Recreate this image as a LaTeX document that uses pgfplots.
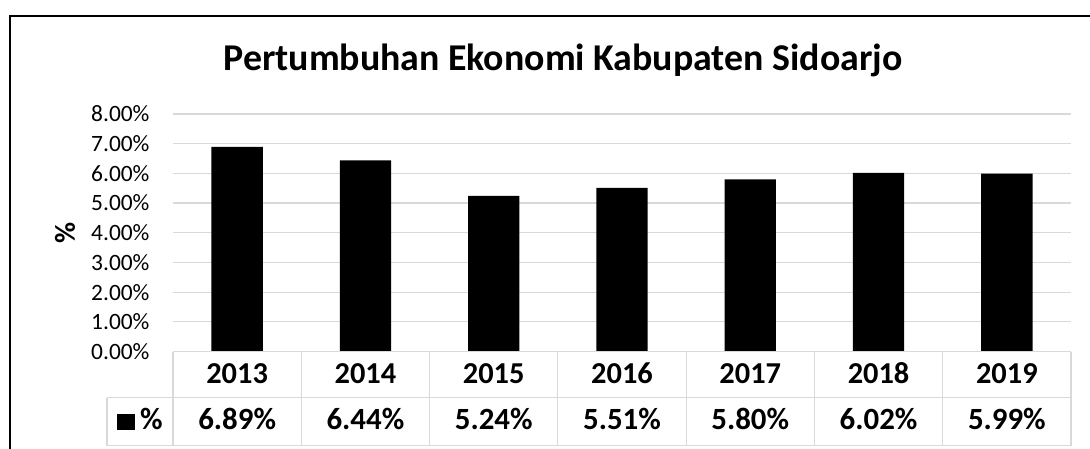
\documentclass[border=0pt]{standalone}
\usepackage{pgfplots}
\pgfplotsset{compat=1.18}
\usepackage{fontspec}
\setmainfont{Carlito}
\definecolor{gridgray}{HTML}{D9D9D9}
\begin{document}
\begin{tikzpicture}
\begin{axis}[
  at={(0,0)}, anchor=south west,
  scale only axis,
  width=898bp, height=237.6bp,
  xmin=-0.5, xmax=6.5, ymin=0, ymax=8,
  ytick={0,1,...,8},
  xtick=\empty,
  ymajorgrids,
  grid style={gridgray, line width=1.2bp},
  axis line style={draw=none},
  major tick length=0pt,
  /pgf/number format/assume math mode=true,
  yticklabel={\pgfmathprintnumber[fixed,fixed zerofill,precision=2]{\tick}\%},
  yticklabel style={font=\fontsize{23.5}{26}\selectfont, anchor=east, xshift=-20bp},
  clip=false,
]
\addplot[ybar, bar width=0.4, fill=black, draw=none] coordinates {
  (0,6.89) (1,6.44) (2,5.24) (3,5.51) (4,5.80) (5,6.02) (6,5.99)
};
\end{axis}
% data table
\begin{scope}[shift={(current axis.south west)}, x=1bp, y=1bp]
  \def\cw{128.286}
  \draw[gridgray, line width=1.2bp] (0,0) -- (898,0);
  \draw[gridgray, line width=1.2bp] (0,-46.1) -- (898,-46.1);
  \draw[gridgray, line width=1.2bp] (-66,-46.1) -- (0,-46.1);
  \draw[gridgray, line width=1.2bp] (-66,-94.1) -- (898,-94.1);
  \draw[gridgray, line width=1.2bp] (-66,-46.1) -- (-66,-94.1);
  \foreach \k in {0,...,7} {
    \draw[gridgray, line width=1.2bp] ({\k*\cw},0) -- ({\k*\cw},-94.1);
  }
  \foreach \yr/\v [count=\i from 0] in {2013/6.89\%,2014/6.44\%,2015/5.24\%,2016/5.51\%,2017/5.80\%,2018/6.02\%,2019/5.99\%} {
    \node[anchor=base, inner sep=0pt, font=\fontsize{30.5}{34}\selectfont\bfseries] at ({(\i+0.5)*\cw},-31.7) {\yr};
    \node[anchor=base, inner sep=0pt, font=\fontsize{31}{34}\selectfont\bfseries] at ({(\i+0.5)*\cw},-78.4) {\v};
  }
  % legend key
  \fill[black] (-56,-62.4) rectangle (-38,-78.4);
  \node[anchor=base west, inner sep=0pt, font=\fontsize{31}{34}\selectfont\bfseries] at (-33,-78.4) {\%};
  % y label
  \node[rotate=90, inner sep=0pt, font=\fontsize{29}{32}\selectfont\bfseries] at (-108,119) {\%};
  % title
  \node[anchor=base, inner sep=0pt, font=\fontsize{38}{44}\selectfont\bfseries] at (390,280.9) {Pertumbuhan Ekonomi Kabupaten Sidoarjo};
  % outer frame
  \draw[black, line width=2bp] (-163,-120) -- (-163,335.6) -- (940,335.6);
  \pgfresetboundingbox
  \path[use as bounding box] (-173,-97.4) rectangle (917,351.6);
\end{scope}
\end{tikzpicture}
\end{document}
